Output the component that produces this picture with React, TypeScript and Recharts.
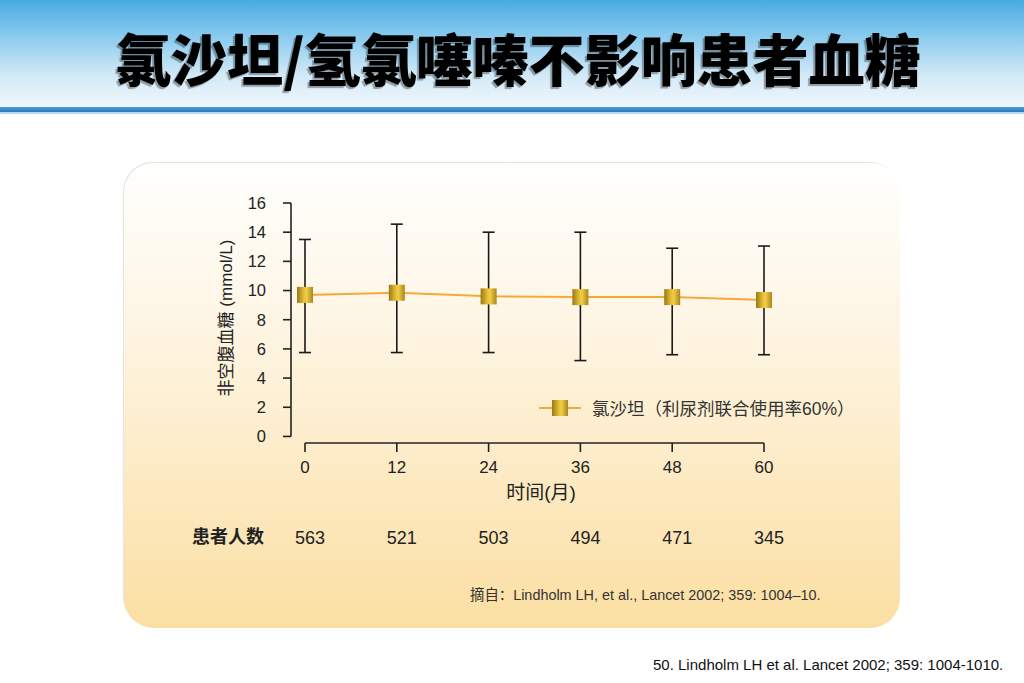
import React from "react";
import { ComposedChart, Line, ErrorBar, XAxis, YAxis, ReferenceLine, Legend } from "recharts";

// months of follow-up and fasting glucose (mmol/L)
const months = [0, 12, 24, 36, 48, 60];
const glucoseMean = [9.7, 9.85, 9.6, 9.55, 9.55, 9.35];
const glucoseHigh = [13.5, 14.55, 14.0, 14.0, 12.9, 13.05];
const glucoseLow = [5.75, 5.75, 5.75, 5.2, 5.6, 5.6];
const patients = [563, 521, 503, 494, 471, 345];
const yTicks = [0, 2, 4, 6, 8, 10, 12, 14, 16];

const seriesName = "氯沙坦（利尿剂联合使用率60%）";
const title = "氯沙坦/氢氯噻嗪不影响患者血糖";

const data = months.map((m, i) => ({
  month: m,
  glucose: glucoseMean[i],
  err: [glucoseMean[i] - glucoseLow[i], glucoseHigh[i] - glucoseMean[i]],
}));

// axes sit slightly detached from the data range (range-frame look)
const X_MIN = -1.83;
const Y_MIN = -0.45;

const SANS = '"Liberation Sans", Arial, "Noto Sans CJK SC", sans-serif';
const INK = "#222";
const ORANGE = "#F6A93B";

function GoldGradient({ id }: { id: string }) {
  return (
    <linearGradient id={id} x1="0" y1="0" x2="1" y2="0">
      <stop offset="0%" stopColor="#9A7812" />
      <stop offset="45%" stopColor="#E8C23A" />
      <stop offset="60%" stopColor="#F0CC48" />
      <stop offset="100%" stopColor="#A8861A" />
    </linearGradient>
  );
}

// eslint-disable-next-line @typescript-eslint/no-explicit-any
function SquareDot({ cx, cy, index }: any) {
  if (cx == null || cy == null) return null;
  return <rect key={index} x={cx - 8} y={cy - 8} width={16} height={16} fill="url(#goldSq)" />;
}

// eslint-disable-next-line @typescript-eslint/no-explicit-any
function MonthTick({ x, y, payload }: any) {
  const i = months.indexOf(payload.value);
  return (
    <g>
      <line x1={x} x2={x} y1={y} y2={y + 9} stroke={INK} strokeWidth={1.6} />
      <text x={x} y={y + 30} textAnchor="middle" fontSize={17} fill={INK} fontFamily={SANS}>
        {payload.value}
      </text>
      <text x={x + 5} y={y + 101} textAnchor="middle" fontSize={18} fill={INK} fontFamily={SANS}>
        {patients[i]}
      </text>
    </g>
  );
}

// eslint-disable-next-line @typescript-eslint/no-explicit-any
function XLabel({ viewBox }: any) {
  const { y } = viewBox;
  return (
    <g fontFamily={SANS} fill={INK}>
      <text x={541} y={y + 49} textAnchor="middle" dominantBaseline="central" fontSize={19}>
        时间(月)
      </text>
      <text x={228} y={y + 94} textAnchor="middle" dominantBaseline="central" fontSize={18} fontWeight="bold">
        患者人数
      </text>
    </g>
  );
}

// eslint-disable-next-line @typescript-eslint/no-explicit-any
function YLabel({ viewBox }: any) {
  const cy = viewBox.y + viewBox.height / 2 - 5;
  return (
    <text
      x={226}
      y={cy}
      transform={`rotate(-90 226 ${cy})`}
      textAnchor="middle"
      dominantBaseline="central"
      fontSize={17}
      fill={INK}
      fontFamily={SANS}
    >
      非空腹血糖 (mmol/L)
    </text>
  );
}

function LegendRow() {
  return (
    <div style={{ display: "flex", alignItems: "center", fontFamily: SANS }}>
      <svg width={46} height={22}>
        <defs>
          <GoldGradient id="goldLeg" />
        </defs>
        <line x1={2} x2={44} y1={11} y2={11} stroke={ORANGE} strokeWidth={2} />
        <rect x={15} y={3} width={16} height={16} fill="url(#goldLeg)" />
      </svg>
      <span style={{ marginLeft: 9, fontSize: 17.5, color: "#333", whiteSpace: "nowrap" }}>{seriesName}</span>
    </div>
  );
}

export default function App() {
  return (
    <div
      style={{
        position: "absolute",
        left: 0,
        top: 0,
        width: 1024,
        height: 683,
        background: "#fff",
        overflow: "hidden",
        fontFamily: SANS,
      }}
    >
      {/* header band */}
      <div
        style={{
          position: "absolute",
          left: 0,
          top: 0,
          width: 1024,
          height: 107,
          background: "linear-gradient(180deg, #47ABE2 0%, #8CCBEE 35%, #D2E9F7 70%, #F1F7FC 100%)",
        }}
      />
      <div style={{ position: "absolute", left: 0, top: 107, width: 1024, height: 5, background: "linear-gradient(180deg, #4C9BDA, #2A7AC3)" }} />
      <div style={{ position: "absolute", left: 0, top: 112, width: 1024, height: 2, background: "#B6D8F1" }} />
      <div
        style={{
          position: "absolute",
          left: 6,
          top: 29,
          width: 1024,
          textAlign: "center",
          fontFamily: '"Noto Sans CJK SC", sans-serif',
          fontWeight: 900,
          fontSize: 56,
          lineHeight: 1,
          color: "#000",
          textShadow: "-2px 2px 1px rgba(0,0,0,0.35)",
          whiteSpace: "nowrap",
        }}
      >
        {title}
      </div>

      {/* cream panel */}
      <div
        style={{
          position: "absolute",
          left: 124,
          top: 163,
          width: 776,
          height: 465,
          borderRadius: 30,
          background: "linear-gradient(180deg, #FFFFFD 0%, #FEF7E8 30%, #FDEBC6 65%, #FBDFA2 100%)",
          boxShadow: "-1px -1px 1px rgba(0,0,0,0.12)",
        }}
      />

      <div style={{ position: "absolute", left: 0, top: 0 }}>
        <ComposedChart width={1024} height={683} data={data} margin={{ top: 203, right: 260, bottom: 130, left: 0 }}>
          <defs>
            <GoldGradient id="goldSq" />
          </defs>
          <XAxis
            dataKey="month"
            type="number"
            domain={[X_MIN, 60]}
            ticks={months}
            axisLine={false}
            tickLine={false}
            tickSize={0}
            tickMargin={0}
            height={110}
            tick={<MonthTick />}
            label={<XLabel />}
            interval={0}
          />
          <YAxis
            type="number"
            domain={[Y_MIN, 16]}
            ticks={yTicks}
            width={291}
            axisLine={false}
            tickSize={8}
            tickMargin={17}
            tickLine={{ stroke: INK, strokeWidth: 1.6 }}
            tick={{ fontSize: 16.5, fill: INK, fontFamily: SANS }}
            label={<YLabel />}
            interval={0}
          />
          <ReferenceLine segment={[{ x: 0, y: Y_MIN }, { x: 60, y: Y_MIN }]} stroke={INK} strokeWidth={1.6} />
          <ReferenceLine segment={[{ x: X_MIN, y: 0 }, { x: X_MIN, y: 16 }]} stroke={INK} strokeWidth={1.6} />
          <Legend
            layout="horizontal"
            verticalAlign="middle"
            align="center"
            wrapperStyle={{ left: 537, top: 395, width: 340 }}
            content={() => <LegendRow />}
          />
          <Line
            type="linear"
            dataKey="glucose"
            name={seriesName}
            stroke={ORANGE}
            strokeWidth={2}
            dot={<SquareDot />}
            activeDot={false}
            isAnimationActive={false}
          >
            <ErrorBar dataKey="err" direction="y" width={6} stroke="#1a1a1a" strokeWidth={1.6} isAnimationActive={false} />
          </Line>
        </ComposedChart>
      </div>

      <div
        style={{
          position: "absolute",
          left: 470,
          top: 583,
          fontSize: 14.4,
          color: "#333",
          whiteSpace: "nowrap",
        }}
      >
        摘自：Lindholm LH, et al., Lancet 2002; 359: 1004–10.
      </div>
      <div
        style={{
          position: "absolute",
          left: 653,
          top: 656,
          fontSize: 15,
          color: "#111",
          whiteSpace: "nowrap",
        }}
      >
        50. Lindholm LH et al. Lancet 2002; 359: 1004-1010.
      </div>
    </div>
  );
}
